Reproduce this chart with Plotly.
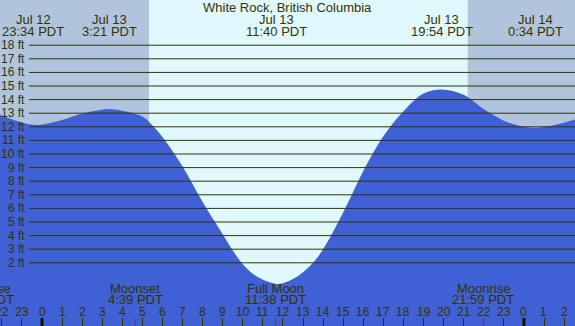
import plotly.graph_objects as go

# ---- data (hours relative to Jul 13 00:00 PDT) ----
tide_hours = [-2.2, -1.5, -1, -0.43, 0, 1, 2, 3, 3.35, 4, 5, 5.5, 6, 7, 8, 9, 9.5, 10, 10.5, 11, 11.67, 12, 12.5, 13, 13.5,
              14, 15, 16, 17, 18, 19, 19.9, 21, 22, 23, 24, 24.57, 25, 26, 26.7]
tide_ft = [12.95, 12.55, 12.32, 12.15, 12.17, 12.5, 12.98, 13.26, 13.3, 13.18, 12.75, 12.1, 11.25, 9.08, 6.47, 4.1, 2.9, 1.9, 1.2, 0.75, 0.45, 0.5, 0.8, 1.3, 2.0,
           3.0, 5.7, 8.75, 11.3, 13.15, 14.45, 14.75, 14.35, 13.3, 12.45, 12.0, 11.93, 11.98, 12.3, 12.6]

ext_hours = [-0.433, 3.35, 11.667, 19.9, 24.567]
ext_dates = ["Jul 12", "Jul 13", "Jul 13", "Jul 13", "Jul 14"]
ext_times = ["23:34 PDT", "3:21 PDT", "11:40 PDT", "19:54 PDT", "0:34 PDT"]

moon_hours = [-2.92, 4.65, 11.633, 21.983]
moon_names = ["Moonrise", "Moonset", "Full Moon", "Moonrise"]
moon_times = ["21:05 PDT", "4:39 PDT", "11:38 PDT", "21:59 PDT"]

sunrise_h = 5.33
sunset_h = 21.2

grid_levels = list(range(2, 19))
hour_ticks = list(range(-2, 27))
midnights = [0, 24]

title = "White Rock, British Columbia"

# ---- style ----
W, H = 575, 326
XR = [-2.092, 26.544]
YR = [-2.647, 21.324]
TXT = "#333300"
DAY = "#e0f8ff"
NIGHT = "#b0c4de"
WATER = "#4060d6"
FONT = "Liberation Sans, Arial, sans-serif"


def py(p):
    return 1 - p / H


def hx(h):
    return (h - XR[0]) / (XR[1] - XR[0])


fig = go.Figure()
fig.add_trace(go.Scatter(x=[XR[0] - 1, XR[1] + 1], y=[YR[0] - 1, YR[0] - 1], mode="lines",
                         line=dict(width=0, color=WATER), hoverinfo="skip", showlegend=False))
fig.add_trace(go.Scatter(x=tide_hours, y=tide_ft, mode="lines", fill="tonexty", fillcolor=WATER,
                         line=dict(width=0, color=WATER, shape="spline", smoothing=1),
                         showlegend=False))

shapes = []
shapes.append(dict(type="rect", xref="x", yref="paper", x0=XR[0] - 1, x1=sunrise_h, y0=0, y1=1,
                   fillcolor=NIGHT, line_width=0, layer="below"))
shapes.append(dict(type="rect", xref="x", yref="paper", x0=sunset_h, x1=XR[1] + 1, y0=0, y1=1,
                   fillcolor=NIGHT, line_width=0, layer="below"))
for lv in grid_levels:
    shapes.append(dict(type="line", xref="paper", yref="y", x0=29 / W, x1=1, y0=lv, y1=lv,
                       line=dict(color=TXT, width=1), layer="above"))
for m in midnights:
    shapes.append(dict(type="line", xref="x", yref="paper", x0=m, x1=m, y0=0, y1=8 / H,
                       line=dict(color="#111100", width=3), layer="above"))
for mh in moon_hours:
    if XR[0] < mh < XR[1]:
        shapes.append(dict(type="line", xref="x", yref="paper", x0=mh, x1=mh, y0=0, y1=8 / H,
                           line=dict(color="#ff0000", width=1), layer="above"))

ann = []
ann.append(dict(text=title, xref="paper", yref="paper", x=0.5, y=py(7.5), xanchor="center",
                yanchor="middle", showarrow=False, font=dict(size=13, color=TXT, family=FONT)))
for h, d, t in zip(ext_hours, ext_dates, ext_times):
    for txt, yy in ((d, 19.8), (t, 31.6)):
        ann.append(dict(text=txt, xref="paper", yref="paper", x=hx(h), y=py(yy), xanchor="center",
                        yanchor="middle", showarrow=False, font=dict(size=13, color=TXT, family=FONT)))
for h, n, t in zip(moon_hours, moon_names, moon_times):
    for txt, yy in ((n, 288), (t, 299.5)):
        ann.append(dict(text=txt, xref="paper", yref="paper", x=hx(h), y=py(yy), xanchor="center",
                        yanchor="middle", showarrow=False, font=dict(size=13, color=TXT, family=FONT)))
for lv in grid_levels:
    ann.append(dict(text=f"{lv} ft", xref="paper", yref="y", x=27 / W, y=lv, xanchor="right",
                    yanchor="middle", showarrow=False, font=dict(size=12, color=TXT, family=FONT)))
for h in hour_ticks:
    ann.append(dict(text=str(h % 24), xref="paper", yref="paper", x=hx(h), y=py(311.5),
                    xanchor="center", yanchor="middle", showarrow=False,
                    font=dict(size=12, color=TXT, family=FONT)))

fig.update_layout(
    width=W, height=H, autosize=False,
    margin=dict(l=0, r=0, t=0, b=0, pad=0),
    plot_bgcolor=DAY, paper_bgcolor=DAY,
    shapes=shapes, annotations=ann, showlegend=False,
    xaxis=dict(range=XR, showgrid=False, zeroline=False, showline=False,
               tickvals=hour_ticks, ticks="inside", ticklen=8, tickwidth=1, tickcolor=TXT,
               showticklabels=False, fixedrange=True),
    yaxis=dict(range=YR, showgrid=False, zeroline=False, showline=False,
               showticklabels=False, ticks="", fixedrange=True),
)

fig.write_html("out.html", config={"displayModeBar": False},
               post_script="document.body.style.margin='0';document.body.style.overflow='hidden';")
